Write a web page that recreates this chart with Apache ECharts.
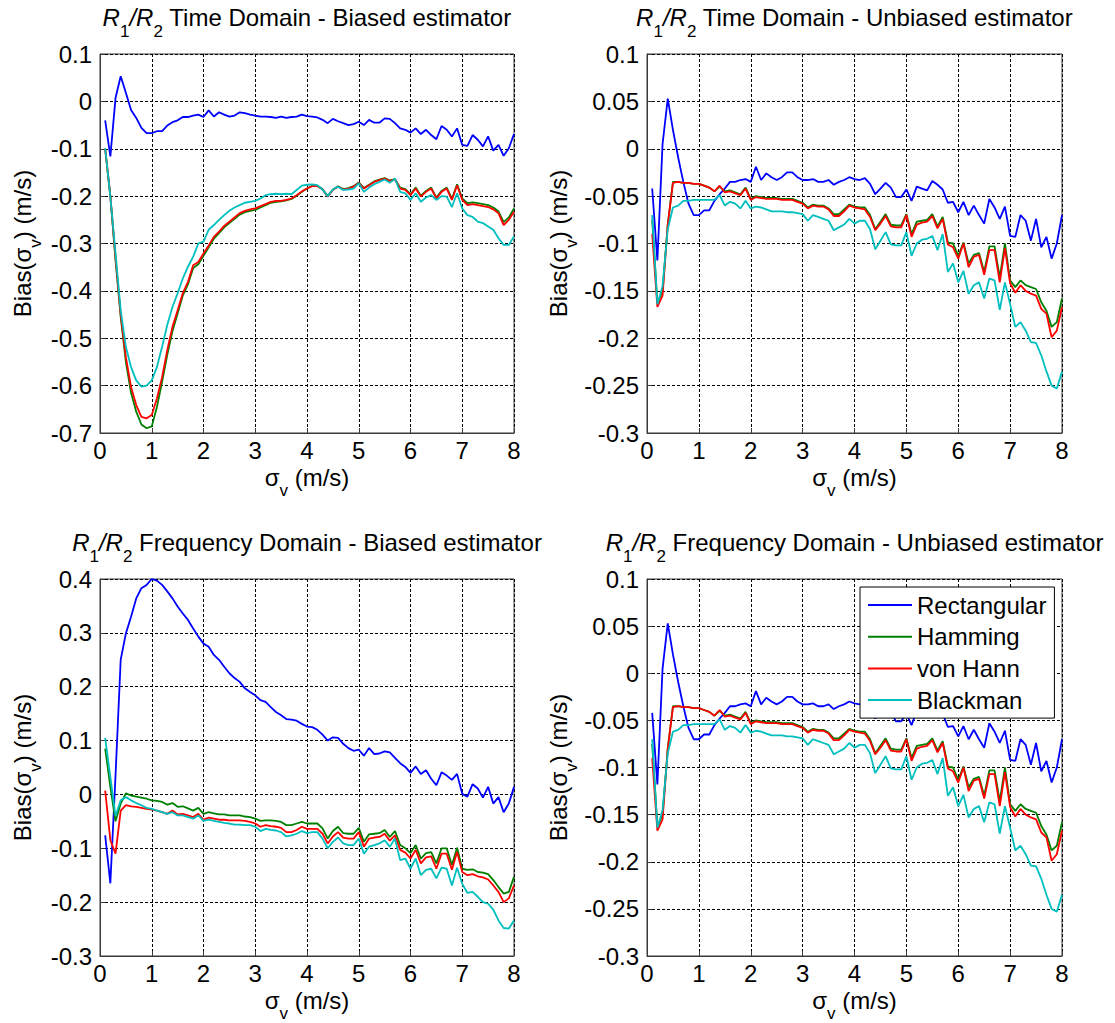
<!DOCTYPE html>
<html>
<head>
<meta charset="utf-8">
<script src="https://cdn.jsdelivr.net/npm/echarts@6/dist/echarts.min.js"></script>
<style>
html,body{margin:0;padding:0;background:#fff;}
#chart{width:1115px;height:1023px;}
</style>
</head>
<body>
<div id="chart"></div>
<script>
// sigma_v sample positions (m/s)
const xs = [0.1,0.2,0.3,0.4,0.5,0.6,0.7,0.8,0.9,1.0,
            1.1,1.2,1.3,1.4,1.5,1.6,1.7,1.8,1.9,2.0,
            2.1,2.2,2.3,2.4,2.5,2.6,2.7,2.8,2.9,3.0,
            3.1,3.2,3.3,3.4,3.5,3.6,3.7,3.8,3.9,4.0,
            4.1,4.2,4.3,4.4,4.5,4.6,4.7,4.8,4.9,5.0,
            5.1,5.2,5.3,5.4,5.5,5.6,5.7,5.8,5.9,6.0,
            6.1,6.2,6.3,6.4,6.5,6.6,6.7,6.8,6.9,7.0,
            7.1,7.2,7.3,7.4,7.5,7.6,7.7,7.8,7.9,8.0];

const seriesNames = ['Rectangular','Hamming','von Hann','Blackman'];

// ---- Time domain, biased estimator ----
const tbRect = [-0.040,-0.116,0.007,0.053,0.018,-0.018,-0.035,-0.056,-0.067,-0.067,
  -0.063,-0.063,-0.051,-0.044,-0.040,-0.033,-0.033,-0.030,-0.028,-0.033,
  -0.019,-0.032,-0.023,-0.028,-0.032,-0.030,-0.023,-0.025,-0.028,-0.030,
  -0.032,-0.032,-0.033,-0.035,-0.032,-0.035,-0.033,-0.032,-0.028,-0.031,
  -0.032,-0.034,-0.039,-0.046,-0.037,-0.042,-0.046,-0.050,-0.048,-0.043,
  -0.050,-0.039,-0.045,-0.045,-0.036,-0.037,-0.046,-0.057,-0.060,-0.066,
  -0.057,-0.069,-0.060,-0.071,-0.080,-0.052,-0.060,-0.074,-0.057,-0.092,
  -0.094,-0.071,-0.081,-0.095,-0.074,-0.104,-0.092,-0.115,-0.099,-0.069];
const tbHam = [-0.100,-0.200,-0.335,-0.455,-0.550,-0.615,-0.655,-0.682,-0.690,-0.686,
  -0.645,-0.592,-0.535,-0.485,-0.448,-0.410,-0.386,-0.352,-0.344,-0.326,
  -0.308,-0.290,-0.278,-0.266,-0.257,-0.248,-0.239,-0.234,-0.231,-0.229,
  -0.224,-0.219,-0.214,-0.212,-0.211,-0.209,-0.206,-0.199,-0.191,-0.184,
  -0.178,-0.178,-0.185,-0.200,-0.186,-0.179,-0.185,-0.183,-0.179,-0.171,
  -0.183,-0.176,-0.169,-0.165,-0.162,-0.167,-0.164,-0.182,-0.185,-0.196,
  -0.182,-0.199,-0.189,-0.182,-0.203,-0.189,-0.182,-0.206,-0.175,-0.205,
  -0.215,-0.213,-0.215,-0.217,-0.219,-0.224,-0.232,-0.255,-0.245,-0.226];
const tbHann = [-0.100,-0.200,-0.330,-0.450,-0.540,-0.603,-0.641,-0.666,-0.669,-0.662,
  -0.627,-0.582,-0.525,-0.476,-0.441,-0.405,-0.381,-0.346,-0.339,-0.321,
  -0.304,-0.286,-0.275,-0.263,-0.254,-0.245,-0.236,-0.231,-0.228,-0.226,
  -0.221,-0.217,-0.212,-0.210,-0.210,-0.208,-0.205,-0.198,-0.190,-0.184,
  -0.179,-0.179,-0.186,-0.201,-0.187,-0.180,-0.186,-0.184,-0.180,-0.172,
  -0.184,-0.177,-0.170,-0.166,-0.163,-0.168,-0.165,-0.184,-0.187,-0.198,
  -0.184,-0.201,-0.191,-0.184,-0.205,-0.191,-0.184,-0.208,-0.177,-0.208,
  -0.219,-0.217,-0.219,-0.221,-0.223,-0.228,-0.236,-0.261,-0.250,-0.233];
const tbBlack = [-0.099,-0.201,-0.321,-0.441,-0.518,-0.561,-0.589,-0.602,-0.600,-0.589,
  -0.561,-0.518,-0.472,-0.434,-0.405,-0.374,-0.349,-0.328,-0.300,-0.296,
  -0.271,-0.261,-0.250,-0.240,-0.231,-0.224,-0.219,-0.214,-0.212,-0.210,
  -0.205,-0.198,-0.196,-0.195,-0.196,-0.195,-0.196,-0.187,-0.178,-0.176,
  -0.175,-0.177,-0.186,-0.200,-0.186,-0.180,-0.187,-0.186,-0.184,-0.173,
  -0.191,-0.182,-0.175,-0.170,-0.165,-0.172,-0.163,-0.191,-0.194,-0.208,
  -0.194,-0.212,-0.203,-0.198,-0.208,-0.200,-0.201,-0.223,-0.194,-0.226,
  -0.240,-0.244,-0.254,-0.257,-0.264,-0.271,-0.289,-0.303,-0.303,-0.285];

// ---- Time domain, unbiased estimator ----
const ubRect = [-0.042,-0.118,0.005,0.053,0.020,-0.009,-0.035,-0.058,-0.070,-0.070,
  -0.065,-0.065,-0.055,-0.048,-0.042,-0.035,-0.035,-0.033,-0.032,-0.035,
  -0.019,-0.033,-0.026,-0.030,-0.033,-0.030,-0.025,-0.025,-0.030,-0.033,
  -0.033,-0.032,-0.035,-0.035,-0.033,-0.038,-0.035,-0.033,-0.030,-0.032,
  -0.033,-0.031,-0.037,-0.048,-0.042,-0.036,-0.041,-0.051,-0.051,-0.043,
  -0.055,-0.040,-0.042,-0.044,-0.034,-0.038,-0.043,-0.057,-0.056,-0.067,
  -0.056,-0.070,-0.060,-0.070,-0.079,-0.053,-0.062,-0.074,-0.061,-0.092,
  -0.093,-0.070,-0.076,-0.097,-0.074,-0.104,-0.093,-0.116,-0.100,-0.070];
const ubHam = [-0.075,-0.163,-0.150,-0.080,-0.035,-0.035,-0.036,-0.036,-0.037,-0.037,
  -0.039,-0.041,-0.045,-0.040,-0.045,-0.044,-0.046,-0.048,-0.041,-0.053,
  -0.050,-0.051,-0.052,-0.052,-0.052,-0.053,-0.053,-0.053,-0.055,-0.057,
  -0.062,-0.059,-0.060,-0.060,-0.063,-0.069,-0.069,-0.064,-0.059,-0.061,
  -0.062,-0.062,-0.070,-0.085,-0.077,-0.069,-0.080,-0.081,-0.081,-0.069,
  -0.090,-0.077,-0.076,-0.075,-0.069,-0.082,-0.072,-0.099,-0.100,-0.113,
  -0.099,-0.121,-0.112,-0.110,-0.130,-0.103,-0.103,-0.136,-0.100,-0.139,
  -0.146,-0.139,-0.144,-0.146,-0.148,-0.162,-0.171,-0.188,-0.183,-0.158];
const ubHann = [-0.090,-0.167,-0.155,-0.080,-0.036,-0.035,-0.036,-0.036,-0.037,-0.037,
  -0.039,-0.041,-0.045,-0.039,-0.046,-0.045,-0.047,-0.049,-0.042,-0.054,
  -0.051,-0.052,-0.053,-0.053,-0.053,-0.054,-0.054,-0.054,-0.056,-0.058,
  -0.063,-0.060,-0.061,-0.061,-0.064,-0.071,-0.071,-0.066,-0.060,-0.062,
  -0.063,-0.064,-0.072,-0.086,-0.079,-0.071,-0.082,-0.083,-0.083,-0.070,
  -0.093,-0.080,-0.078,-0.077,-0.071,-0.084,-0.074,-0.101,-0.104,-0.116,
  -0.100,-0.125,-0.114,-0.112,-0.133,-0.107,-0.107,-0.141,-0.105,-0.142,
  -0.152,-0.144,-0.150,-0.153,-0.155,-0.169,-0.174,-0.199,-0.192,-0.167];
const ubBlack = [-0.070,-0.164,-0.145,-0.085,-0.062,-0.060,-0.055,-0.055,-0.054,-0.054,
  -0.054,-0.054,-0.054,-0.049,-0.060,-0.056,-0.058,-0.063,-0.055,-0.063,
  -0.061,-0.062,-0.064,-0.066,-0.066,-0.066,-0.067,-0.067,-0.068,-0.069,
  -0.076,-0.070,-0.072,-0.074,-0.076,-0.086,-0.083,-0.080,-0.074,-0.079,
  -0.076,-0.076,-0.085,-0.106,-0.097,-0.088,-0.101,-0.102,-0.102,-0.088,
  -0.113,-0.100,-0.096,-0.095,-0.092,-0.107,-0.090,-0.130,-0.121,-0.141,
  -0.129,-0.153,-0.144,-0.141,-0.158,-0.137,-0.139,-0.170,-0.141,-0.164,
  -0.188,-0.183,-0.192,-0.204,-0.205,-0.218,-0.235,-0.250,-0.253,-0.235];

// ---- Frequency domain, biased estimator ----
const fbRect = [-0.076,-0.165,0.035,0.250,0.299,0.330,0.364,0.383,0.389,0.400,
  0.397,0.389,0.377,0.364,0.349,0.336,0.324,0.308,0.293,0.280,
  0.274,0.259,0.250,0.237,0.225,0.216,0.209,0.197,0.190,0.184,
  0.175,0.172,0.162,0.153,0.147,0.140,0.139,0.137,0.131,0.126,
  0.125,0.120,0.111,0.100,0.106,0.105,0.094,0.086,0.081,0.083,
  0.072,0.086,0.075,0.076,0.080,0.078,0.068,0.058,0.051,0.040,
  0.052,0.038,0.045,0.029,0.017,0.041,0.035,0.027,0.038,0.001,
  -0.004,0.019,0.011,-0.006,0.014,-0.017,-0.005,-0.033,-0.017,0.014];
const fbHam = [0.085,0.014,-0.050,-0.017,0.002,-0.002,-0.004,-0.006,-0.008,-0.011,
  -0.012,-0.014,-0.019,-0.016,-0.023,-0.022,-0.026,-0.030,-0.025,-0.036,
  -0.033,-0.035,-0.037,-0.037,-0.039,-0.039,-0.039,-0.041,-0.042,-0.045,
  -0.049,-0.048,-0.048,-0.049,-0.051,-0.057,-0.057,-0.054,-0.051,-0.054,
  -0.054,-0.054,-0.063,-0.082,-0.068,-0.060,-0.072,-0.073,-0.073,-0.062,
  -0.088,-0.074,-0.073,-0.072,-0.066,-0.079,-0.068,-0.094,-0.100,-0.109,
  -0.094,-0.119,-0.109,-0.107,-0.128,-0.100,-0.100,-0.131,-0.099,-0.138,
  -0.140,-0.139,-0.144,-0.145,-0.148,-0.159,-0.172,-0.184,-0.181,-0.153];
const fbHann = [0.007,-0.085,-0.110,-0.030,-0.020,-0.022,-0.023,-0.025,-0.027,-0.028,
  -0.030,-0.033,-0.036,-0.030,-0.037,-0.036,-0.039,-0.042,-0.036,-0.047,
  -0.043,-0.045,-0.047,-0.047,-0.048,-0.048,-0.048,-0.049,-0.051,-0.054,
  -0.060,-0.057,-0.059,-0.060,-0.062,-0.070,-0.070,-0.066,-0.060,-0.064,
  -0.064,-0.064,-0.073,-0.091,-0.078,-0.070,-0.080,-0.082,-0.082,-0.070,
  -0.097,-0.082,-0.080,-0.079,-0.073,-0.086,-0.076,-0.103,-0.108,-0.119,
  -0.103,-0.128,-0.117,-0.115,-0.138,-0.110,-0.110,-0.140,-0.107,-0.144,
  -0.150,-0.148,-0.152,-0.154,-0.158,-0.169,-0.181,-0.200,-0.193,-0.169];
const fbBlack = [0.105,0.032,-0.040,-0.011,-0.005,-0.011,-0.016,-0.020,-0.025,-0.027,
  -0.030,-0.033,-0.036,-0.033,-0.039,-0.039,-0.042,-0.045,-0.039,-0.049,
  -0.047,-0.049,-0.051,-0.053,-0.054,-0.056,-0.056,-0.057,-0.057,-0.060,
  -0.068,-0.064,-0.066,-0.067,-0.070,-0.078,-0.076,-0.073,-0.068,-0.072,
  -0.070,-0.070,-0.082,-0.100,-0.088,-0.080,-0.091,-0.094,-0.094,-0.082,
  -0.110,-0.097,-0.094,-0.091,-0.085,-0.097,-0.082,-0.122,-0.119,-0.138,
  -0.119,-0.150,-0.140,-0.138,-0.156,-0.136,-0.138,-0.169,-0.136,-0.166,
  -0.183,-0.181,-0.190,-0.200,-0.203,-0.214,-0.234,-0.248,-0.249,-0.234];

// ---- Frequency domain, unbiased estimator (identical curves to time domain unbiased) ----
const fuRect = ubRect, fuHam = ubHam, fuHann = ubHann, fuBlack = ubBlack;

// axis tick settings
const xTicks = {min: 0, max: 8, interval: 1};
const yTicks = [
  {min: -0.7, max: 0.1, interval: 0.1},
  {min: -0.3, max: 0.1, interval: 0.05},
  {min: -0.3, max: 0.4, interval: 0.1},
  {min: -0.3, max: 0.1, interval: 0.05}
];
const panelTitles = ['Time Domain - Biased estimator','Time Domain - Unbiased estimator',
                     'Frequency Domain - Biased estimator','Frequency Domain - Unbiased estimator'];
const panelData = [
  [tbRect, tbHam, tbHann, tbBlack],
  [ubRect, ubHam, ubHann, ubBlack],
  [fbRect, fbHam, fbHann, fbBlack],
  [fuRect, fuHam, fuHann, fuBlack]
];

const FONT = '"Liberation Sans", Arial, Helvetica, sans-serif';
const colors = ['#0000ff', '#008000', '#ff0000', '#00bfbf'];
const grids = [
  {left: 100, top: 54, width: 414, height: 379},
  {left: 647, top: 54, width: 415, height: 379},
  {left: 100, top: 579, width: 414, height: 377},
  {left: 647, top: 579, width: 415, height: 377}
];
const yNameGap = [56, 65, 56, 65];

const richStyles = {
  n: {fontSize: 24, fontFamily: FONT, color: '#000', verticalAlign: 'top', lineHeight: 26},
  i: {fontSize: 24, fontFamily: FONT, color: '#000', fontStyle: 'italic', verticalAlign: 'top', lineHeight: 26},
  s: {fontSize: 17, fontFamily: FONT, color: '#000', verticalAlign: 'bottom', lineHeight: 34}
};

function fmt(v) { return String(+v.toFixed(2)); }

const option = {
  animation: false,
  backgroundColor: '#fff',
  grid: grids.map(g => Object.assign({show: true, borderColor: '#3a3a3a', borderWidth: 1, backgroundColor: 'transparent'}, g)),
  xAxis: grids.map((g, k) => ({
    type: 'value', gridIndex: k, min: xTicks.min, max: xTicks.max, interval: xTicks.interval,
    axisLine: {show: true, onZero: false, lineStyle: {color: '#3a3a3a'}},
    axisTick: {show: true, inside: true, length: 5, lineStyle: {color: '#3a3a3a'}},
    axisLabel: {fontSize: 24, fontFamily: FONT, color: '#000', margin: 5},
    splitLine: {show: true, lineStyle: {color: '#000', width: 1, type: [3, 2]}},
    name: '{n|σ}{s|v}{n| (m/s)}', nameLocation: 'middle', nameGap: 32,
    nameTextStyle: {rich: richStyles}
  })),
  yAxis: grids.map((g, k) => ({
    type: 'value', gridIndex: k, min: yTicks[k].min, max: yTicks[k].max, interval: yTicks[k].interval,
    axisLine: {show: true, onZero: false, lineStyle: {color: '#3a3a3a'}},
    axisTick: {show: true, inside: true, length: 5, lineStyle: {color: '#3a3a3a'}},
    axisLabel: {fontSize: 24, fontFamily: FONT, color: '#000', margin: 8, formatter: fmt},
    splitLine: {show: true, lineStyle: {color: '#000', width: 1, type: [3, 2]}},
    name: '{n|Bias(σ}{s|v}{n|) (m/s)}', nameLocation: 'middle', nameGap: yNameGap[k],
    nameTextStyle: {rich: richStyles}
  })),
  legend: {
    data: seriesNames, orient: 'vertical', left: 860, top: 587,
    icon: 'rect', itemWidth: 44, itemHeight: 2, itemGap: 3.7,
    backgroundColor: '#fff', borderColor: '#000', borderWidth: 1, padding: [4, 8, 4, 8],
    textStyle: {fontSize: 24, fontFamily: FONT, color: '#000', lineHeight: 28},
    selectedMode: false
  },
  graphic: grids.map((g, k) => ({
    type: 'text',
    x: g.left + g.width / 2,
    y: g.top - 31.5,
    style: {
      text: '{i|R}{s|1}{i|/R}{s|2}{n| ' + panelTitles[k] + '}',
      rich: richStyles, align: 'center', verticalAlign: 'middle'
    }
  })),
  series: []
};

panelData.forEach((arrs, k) => {
  arrs.forEach((arr, j) => {
    option.series.push({
      type: 'line', name: seriesNames[j], xAxisIndex: k, yAxisIndex: k,
      data: xs.map((x, i) => [x, arr[i]]),
      showSymbol: false, symbol: 'none',
      color: colors[j],
      lineStyle: {color: colors[j], width: 1.8},
      z: 2 + j
    });
  });
});

const chart = echarts.init(document.getElementById('chart'), null, {renderer: 'svg'});
chart.setOption(option);
</script>
</body>
</html>
